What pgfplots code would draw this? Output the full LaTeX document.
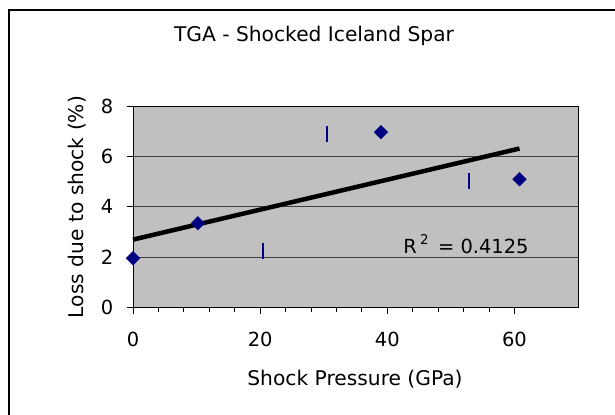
\documentclass[border=0pt]{standalone}
\usepackage{pgfplots}
\pgfplotsset{compat=1.18}
\usepackage{fontspec}
\setmainfont{DejaVu Sans}
\definecolor{plotgray}{HTML}{C0C0C0}
\definecolor{gridgray}{HTML}{404040}
\definecolor{navy}{HTML}{000080}
\begin{document}
\begin{tikzpicture}[x=1bp,y=1bp]
\useasboundingbox (0,0) rectangle (615,414);
\draw[line width=1.2bp] (9,-40) rectangle (660,404);
\node[anchor=base,font=\fontsize{20.3}{24}\selectfont] at (314,373) {TGA - Shocked Iceland Spar};
\node[anchor=base,font=\fontsize{20.3}{24}\selectfont] at (355,29) {Shock Pressure (GPa)};
\node[anchor=base,rotate=90,font=\fontsize{20.3}{24}\selectfont] at (83,207) {Loss due to shock (\%)};
\begin{axis}[
  at={(133bp,106.7bp)}, anchor=south west, scale only axis,
  width=445bp, height=201.3bp,
  xmin=0, xmax=70, ymin=0, ymax=8,
  xtick={0,20,40,60}, ytick={0,2,4,6,8},
  minor x tick num=4,
  tick align=outside, major tick length=6.5bp, minor tick length=4.5bp,
  tick style={black, line width=0.9bp},
  axis background/.style={fill=plotgray},
  axis line style={black, line width=1bp},
  ymajorgrids, grid style={gridgray, line width=0.9bp},
  xtick pos=bottom, ytick pos=left,
  /pgf/number format/assume math mode=true,
  ticklabel style={font=\fontsize{19.5}{23}\selectfont, inner sep=0pt},
  xticklabel style={anchor=base, yshift=-32.5bp},
  yticklabel style={anchor=east, xshift=-13bp},
  clip=false,
]
\addplot[black, line width=4.5bp] coordinates {(0,2.69) (60.8,6.31)};
\addplot[only marks, mark=square*, mark size=4.8bp, mark options={rotate=45, fill=navy, draw=navy}] coordinates {
(0,1.95) (10.2,3.34) (39,6.96) (60.8,5.09)};
\addplot[only marks, mark=|, mark size=8bp, mark options={draw=navy, line width=2.2bp}] coordinates {
(20.4,2.25) (30.5,6.87) (52.8,5.01)};
\node[anchor=base west, font=\fontsize{19.5}{23}\selectfont, inner sep=0pt] at (axis cs:42.5,2.12) {R\,\raisebox{9.5bp}{\fontsize{13.5}{15}\selectfont 2}\, = 0.4125};
\end{axis}
\end{tikzpicture}
\end{document}
